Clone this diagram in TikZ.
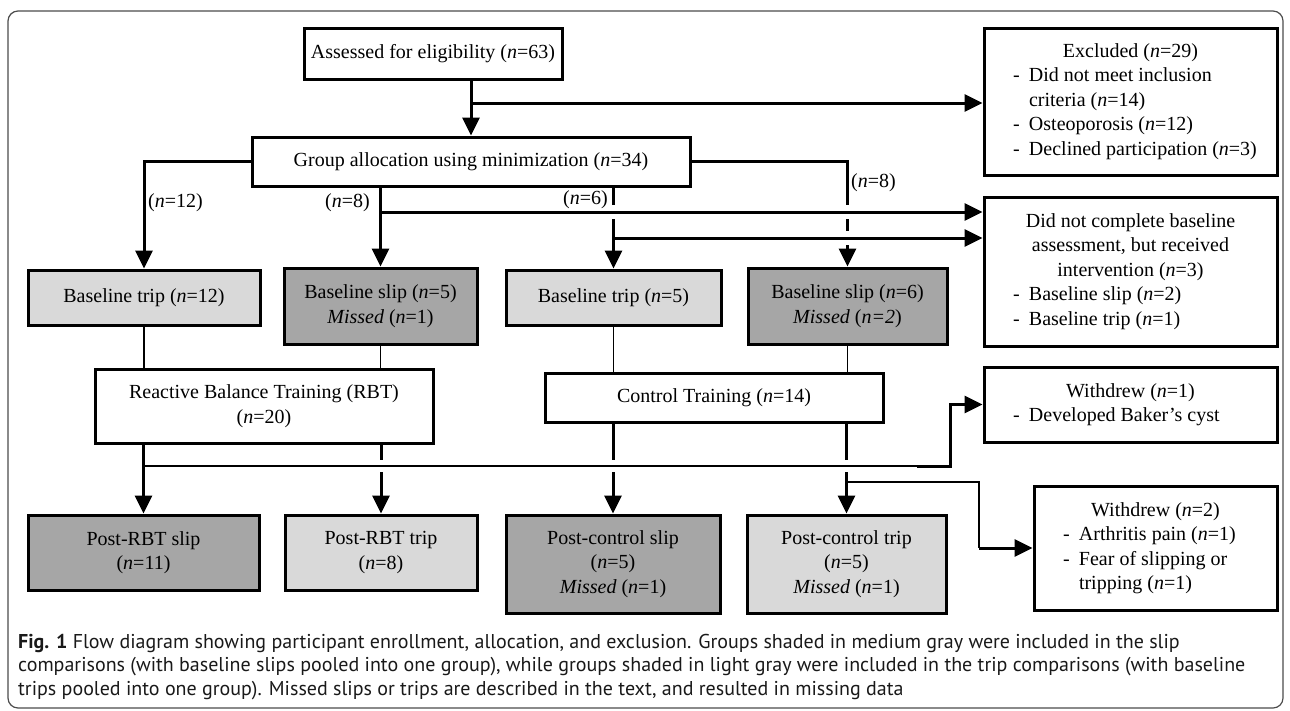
\documentclass[tikz,border=0pt]{standalone}
\usepackage{fontspec}
\setmainfont{Liberation Serif}
\newfontfamily\capfont{PT Sans}
\usetikzlibrary{arrows.meta,positioning}
\definecolor{lightgr}{HTML}{D9D9D9}
\definecolor{midgr}{HTML}{A6A6A6}
\newcommand{\nN}{\textit{n}}
\newcommand{\bitem}[2]{\makebox[#1][l]{\makebox[16pt][l]{-}#2}}
\newcommand{\bmore}[2]{\makebox[#1][l]{\hspace*{16pt}#2}}
\begin{document}
\begin{tikzpicture}[x=1pt,y=-1pt,
  font=\fontsize{20}{24.5}\selectfont,
  box/.style={draw,line width=3pt,fill=white,align=center,inner sep=0pt},
  slipbox/.style={box,fill=midgr},
  tripbox/.style={box,fill=lightgr},
  arr/.style={line width=3pt,-{Triangle[length=18pt,width=17pt]}},
  thinln/.style={line width=1.2pt},
  hop/.style={preaction={draw=white,line width=#1,shorten <=3pt,-}},
  hop/.default=14pt,
  lbl/.style={inner sep=0pt}]
\useasboundingbox (0,0) rectangle (1290,710);
\draw[gray!60!black,line width=1.2pt,rounded corners=10pt] (8,11) rectangle (1283,708);

\node[box,minimum width=258pt,minimum height=51pt] (assess) at (433,53.5) {Assessed for eligibility (\nN=63)};
\node[box,minimum width=438pt,minimum height=49pt] (group) at (471,161.5) {Group allocation using minimization (\nN=34)};
\node[box,minimum width=293pt,minimum height=147pt] (excl) at (1130.5,101.5) {Excluded (\nN=29)\\
  \bitem{235pt}{Did not meet inclusion}\\ \bmore{235pt}{criteria (\nN=14)}\\
  \bitem{235pt}{Osteoporosis (\nN=12)}\\ \bitem{235pt}{Declined participation (\nN=3)}};
\node[box,minimum width=293pt,minimum height=149pt] (didnot) at (1130.5,271.5) {Did not complete baseline\\
  assessment, but received\\ intervention (\nN=3)\\
  \bitem{235pt}{Baseline slip (\nN=2)}\\ \bitem{235pt}{Baseline trip (\nN=1)}};
\node[box,minimum width=293pt,minimum height=75pt] (wd1) at (1130.5,404.5) {Withdrew (\nN=1)\\
  \bitem{235pt}{Developed Baker's cyst}};
\node[box,minimum width=243pt,minimum height=124pt] (wd2) at (1155.5,548) {Withdrew (\nN=2)\\
  \bitem{185pt}{Arthritis pain (\nN=1)}\\ \bitem{185pt}{Fear of slipping or}\\ \bmore{185pt}{tripping (\nN=1)}};

\node[tripbox,minimum width=232pt,minimum height=55pt] (btrip1) at (144,297.5) {Baseline trip (\nN=12)};
\node[slipbox,minimum width=193pt,minimum height=76pt] (bslip1) at (380.5,306) {Baseline slip (\nN=5)\\ \textit{Missed} (\nN=1)};
\node[tripbox,minimum width=215pt,minimum height=55pt] (btrip2) at (613.5,297.5) {Baseline trip (\nN=5)};
\node[slipbox,minimum width=199pt,minimum height=76pt] (bslip2) at (847.5,306) {Baseline slip (\nN=6)\\ \textit{Missed} (\textit{n=2})};

\node[box,minimum width=338pt,minimum height=74pt] (rbt) at (264,406) {Reactive Balance Training (RBT)\\ (\nN=20)};
\node[box,minimum width=338pt,minimum height=49pt] (ctrl) at (714,397.5) {Control Training (\nN=14)};

\node[slipbox,minimum width=231pt,minimum height=75pt] (prslip) at (143.5,552.5) {Post-RBT slip\\ (\nN=11)};
\node[tripbox,minimum width=192pt,minimum height=75pt] (prtrip) at (381,552.5) {Post-RBT trip\\ (\nN=8)};
\node[slipbox,minimum width=214pt,minimum height=98pt] (pcslip) at (613,564) {Post-control slip\\ (\nN=5)\\ \textit{Missed} (\nN=1)};
\node[tripbox,minimum width=199pt,minimum height=98pt] (pctrip) at (846.5,564) {Post-control trip\\ (\nN=5)\\ \textit{Missed} (\nN=1)};

% enrollment and allocation
\coordinate (j1) at (471,103);
\draw[arr] (group.north |- assess.south) -- (group.north);
\draw[arr] (j1) -- (j1 -| excl.west);
\draw[arr] (group.west) -| (btrip1.north);
\draw[arr] (group.east) -| (bslip2.north);
\draw[arr] (btrip2.north |- group.south) -- (btrip2.north);
\coordinate (j2) at (380.5,212);
\coordinate (j3) at (613.5,238);
\draw[arr,hop] (j2) -- (j2 -| didnot.west);
\draw[arr,hop] (j3) -- (j3 -| didnot.west);
\draw[arr] (bslip1.north |- group.south) -- (bslip1.north);

\draw[thinln] (btrip1.south) -- (btrip1.south |- rbt.north);
\draw[thinln] (bslip1.south) -- (bslip1.south |- rbt.north);
\draw[thinln] (btrip2.south) -- (btrip2.south |- ctrl.north);
\draw[thinln] (bslip2.south) -- (bslip2.south |- ctrl.north);

% training to post tests
\draw[arr] (prtrip.north |- rbt.south) -- (prtrip.north);
\draw[arr] (pcslip.north |- ctrl.south) -- (pcslip.north);
\draw[arr] (pctrip.north |- ctrl.south) -- (pctrip.north);
\coordinate (j4) at (143.5,466);
\coordinate (j5) at (917,466);
\coordinate (j6) at (950,466);
\draw[thinln,hop=12pt] (j4) -- (j5);
\draw[arr] (j5) -- (j6) |- (wd1.west);
\draw[arr] (prslip.north |- rbt.south) -- (prslip.north);
\coordinate (j7) at (846.5,482);
\coordinate (j8) at (979,482);
\draw[thinln] (j7) -- (j8) -- (j8 |- wd2.west);
\draw[arr] (j8 |- wd2.west) -- (wd2.west);

\node[lbl,anchor=west] (l12) at (148,203) {(\nN=12)};
\node[lbl,anchor=east] (l8a) at (370,203) {(\nN=8)};
\node[lbl,anchor=east] (l6) at (608,200) {(\nN=6)};
\node[lbl,anchor=west] (l8b) at (851,183) {(\nN=8)};

\node[anchor=north west,align=left,inner sep=0pt,text=black!90,font=\capfont\fontsize{20}{23.5}\selectfont] (cap) at (18,634)
  {\textbf{Fig. 1} Flow diagram showing participant enrollment, allocation, and exclusion. Groups shaded in medium gray were included in the slip\\
   comparisons (with baseline slips pooled into one group), while groups shaded in light gray were included in the trip comparisons (with baseline\\
   trips pooled into one group). Missed slips or trips are described in the text, and resulted in missing data};
\end{tikzpicture}
\end{document}
